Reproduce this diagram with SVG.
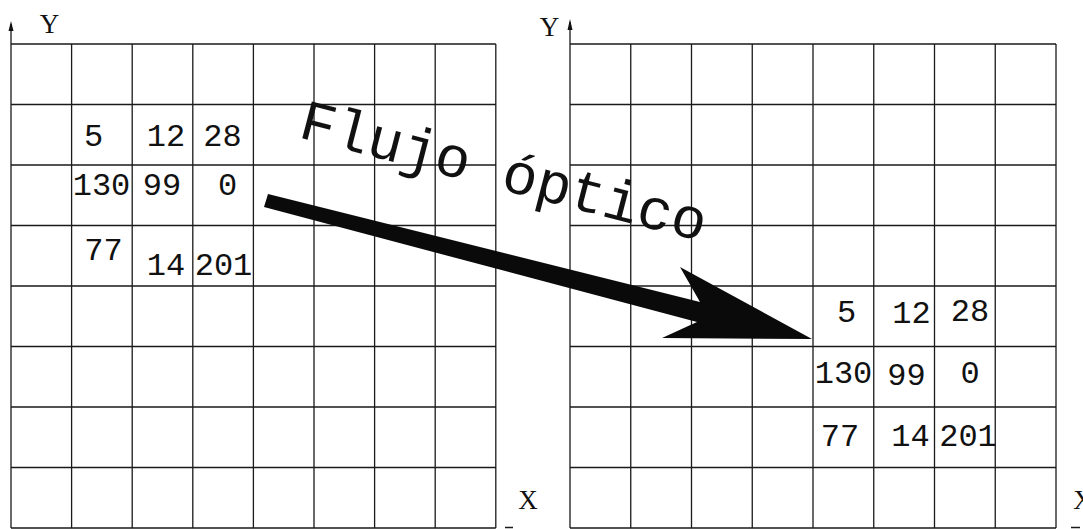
<svg xmlns="http://www.w3.org/2000/svg" width="1083" height="529" viewBox="0 0 1083 529">
<style>
.grid{fill:none;stroke:#1a1a1a;stroke-width:1.3}
.num{font-family:"Liberation Mono","Courier New",monospace;font-size:32px;fill:#111;text-anchor:middle}
.ax{font-family:"Liberation Serif","Times New Roman",serif;font-size:27px;fill:#111;text-anchor:middle}
.lbl{font-family:"Liberation Mono","Courier New",monospace;font-size:58px;fill:#111}
.head{fill:#111}
</style>
<rect width="1083" height="529" fill="#fff"/>
<g id="left-grid">
<path class="grid" d="M11 24V528M71.6 44V528M132.2 44V528M192.8 44V528M253.4 44V528M314 44V528M374.6 44V528M435.2 44V528M495.8 44V528M11 44H495.8M11 104.5H495.8M11 165H495.8M11 225.5H495.8M11 286H495.8M11 346.5H495.8M11 407H495.8M11 467.5H495.8M11 528H495.8M505 527.5H513"/>
<polygon class="head" points="11,21 8.5,31 13.5,31"/>
<text class="ax" x="49.5" y="33">Y</text>
<text class="ax" x="528" y="509">X</text>
<text class="num" x="93.5" y="146">5</text>
<text class="num" x="166" y="146">12</text>
<text class="num" x="222.5" y="146">28</text>
<text class="num" x="101.5" y="195">130</text>
<text class="num" x="162" y="195">99</text>
<text class="num" x="227.5" y="195">0</text>
<text class="num" x="103.5" y="260">77</text>
<text class="num" x="166" y="275">14</text>
<text class="num" x="223.5" y="275">201</text>
</g>
<g id="right-grid">
<path class="grid" d="M570 22V528M630.75 44V528M691.5 44V528M752.25 44V528M813 44V528M873.75 44V528M934.5 44V528M995.25 44V528M1056 44V528M570 44H1056M570 104.5H1056M570 165H1056M570 225.5H1056M570 286H1056M570 346.5H1056M570 407H1056M570 467.5H1056M570 528H1056M1071 527.5H1080"/>
<polygon class="head" points="570,19 567.5,30 572.5,30"/>
<text class="ax" x="549.5" y="36">Y</text>
<text class="ax" x="1083" y="509">X</text>
<text class="num" x="846.5" y="322">5</text>
<text class="num" x="911.5" y="323">12</text>
<text class="num" x="970" y="321">28</text>
<text class="num" x="843.5" y="383">130</text>
<text class="num" x="906.5" y="385">99</text>
<text class="num" x="970" y="383">0</text>
<text class="num" x="840" y="446">77</text>
<text class="num" x="910.5" y="446">14</text>
<text class="num" x="968" y="446">201</text>
</g>
<g id="connectors">
<polygon fill="#0a0a0a" points="268,194 700,302 680,267 812,339 662,338 697,322 264,207"/>
</g>
<g id="label">
<text class="lbl" x="297" y="137" transform="rotate(14.5 297 137)">Flujo óptico</text>
</g>
</svg>
